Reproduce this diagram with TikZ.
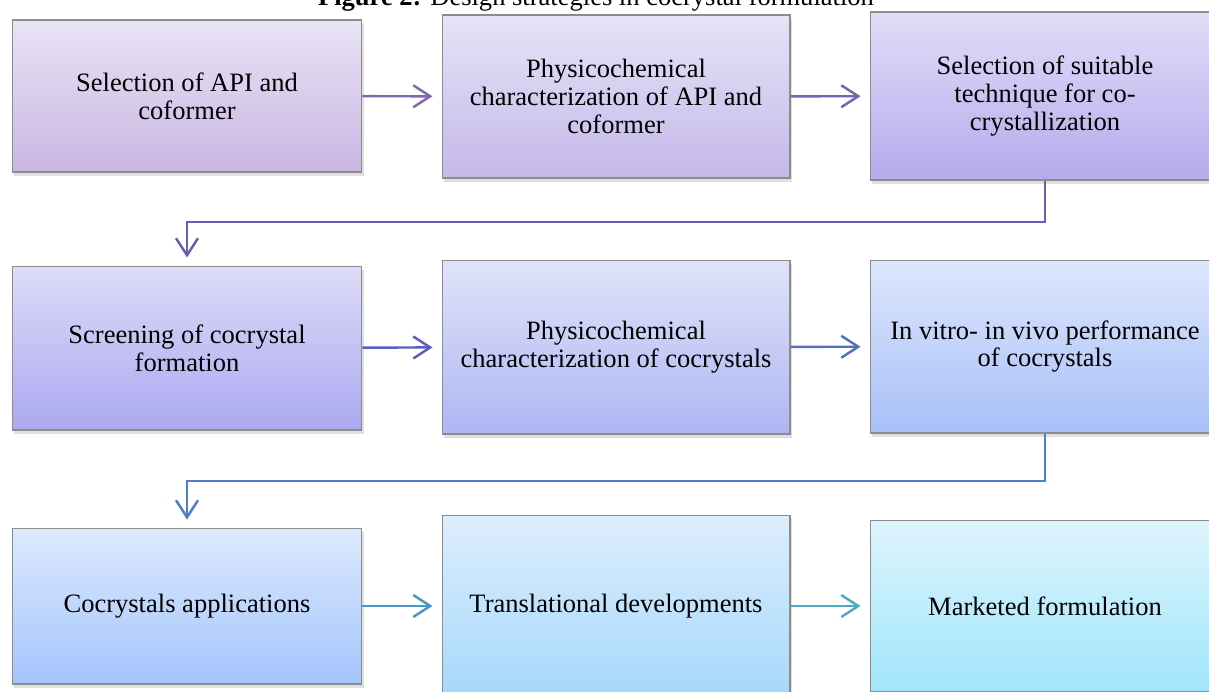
\documentclass[tikz,border=0pt]{standalone}
\usepackage{fontspec}
\setmainfont{Liberation Serif}
\usepackage{tikz}
\usepackage{xcolor}
\usetikzlibrary{arrows.meta,positioning,calc,shadows}
\definecolor{edge}{HTML}{8C8C8C}
\definecolor{topa}{HTML}{E9E3F5}\definecolor{bota}{HTML}{C9B6E3}
\definecolor{topb}{HTML}{E6E3F7}\definecolor{botb}{HTML}{C4B8EA}
\definecolor{topc}{HTML}{E1DDF8}\definecolor{botc}{HTML}{B4ABEC}
\definecolor{topd}{HTML}{DDDCF8}\definecolor{botd}{HTML}{ABA8F0}
\definecolor{tope}{HTML}{E0E3FA}\definecolor{bote}{HTML}{AEB6F3}
\definecolor{topf}{HTML}{DDE6FC}\definecolor{botf}{HTML}{A8C0F8}
\definecolor{topg}{HTML}{DCEAFD}\definecolor{botg}{HTML}{A3C5FC}
\definecolor{toph}{HTML}{DDEEFD}\definecolor{both}{HTML}{A6D8FB}
\definecolor{topi}{HTML}{DEF5FD}\definecolor{boti}{HTML}{A0E5FA}
\definecolor{arra}{HTML}{8068AA}
\definecolor{arrb}{HTML}{7563AE}
\definecolor{lnka}{HTML}{6A5CB0}
\definecolor{arrc}{HTML}{5A5FBE}
\definecolor{arrd}{HTML}{5470BC}
\definecolor{lnkb}{HTML}{4F7FC2}
\definecolor{arre}{HTML}{4A96C4}
\definecolor{arrf}{HTML}{4BAAC6}
\tikzset{
  stage/.style={draw=edge, line width=0.6pt, minimum width=7cm, align=center,
                inner sep=4pt, font=\fontsize{15.1}{15.9}\selectfont,
                drop shadow={shadow xshift=1pt, shadow yshift=-2pt, opacity=0.25}},
  flow/.style={-{Straight Barb[length=3.4mm,width=4.4mm]}, line width=1.4pt,
               shorten >=1.8mm},
  elbow/.style={flow, shorten >=1.6mm}
}

\begin{document}
\begin{tikzpicture}[x=0.02cm,y=-0.02cm]
    \useasboundingbox (0,0) rectangle (1209,691);
    \clip (0,0) rectangle (1209,691);

    \node[anchor=base] (title) at (596,5)
      {\fontsize{15.1}{16}\selectfont\textbf{Figure 2:} Design strategies in cocrystal formulation};

    % first row
    \node[stage, minimum height=3.04cm, top color=topa, bottom color=bota] (select) at (187,96)
      {Selection of API and\\coformer};
    \node[stage, minimum width=6.96cm, minimum height=3.26cm, top color=topb, bottom color=botb] (charapi) at (616,96.5)
      {Physicochemical\\characterization of API and\\coformer};
    \node[stage, minimum height=3.36cm, top color=topc, bottom color=botc] (technique) at (1045,96)
      {Selection of suitable\\technique for co-\\crystallization};

    % second row
    \node[stage, minimum height=3.28cm, top color=topd, bottom color=botd] (screen) at (187,348)
      {Screening of cocrystal\\formation};
    \node[stage, minimum width=6.96cm, minimum height=3.48cm, top color=tope, bottom color=bote] (charco) at (616,347)
      {Physicochemical\\characterization of cocrystals};
    \node[stage, minimum height=3.46cm, top color=topf, bottom color=botf] (perform) at (1045,346.5)
      {In vitro- in vivo performance\\of cocrystals};

    % third row
    \node[stage, minimum height=3.12cm, top color=topg, bottom color=botg] (apps) at (187,606)
      {Cocrystals applications};
    \node[stage, minimum width=6.96cm, minimum height=3.64cm, top color=toph, bottom color=both] (transl) at (616,606)
      {Translational developments};
    \node[stage, minimum height=3.44cm, top color=topi, bottom color=boti] (market) at (1045,606)
      {Marketed formulation};

    \coordinate (turna) at (600,222);
    \coordinate (turnb) at (600,481);

    \draw[flow, draw=arra] (select) -- (charapi);
    \draw[flow, draw=arrb] (charapi) -- (technique);
    \draw[elbow, draw=lnka] (technique.south) |- (turna) -| (screen.north);
    \draw[flow, draw=arrc] (screen) -- (charco);
    \draw[flow, draw=arrd] (charco) -- (perform);
    \draw[elbow, draw=lnkb] (perform.south) |- (turnb) -| (apps.north);
    \draw[flow, draw=arre] (apps) -- (transl);
    \draw[flow, draw=arrf] (transl) -- (market);
\end{tikzpicture}
\end{document}
